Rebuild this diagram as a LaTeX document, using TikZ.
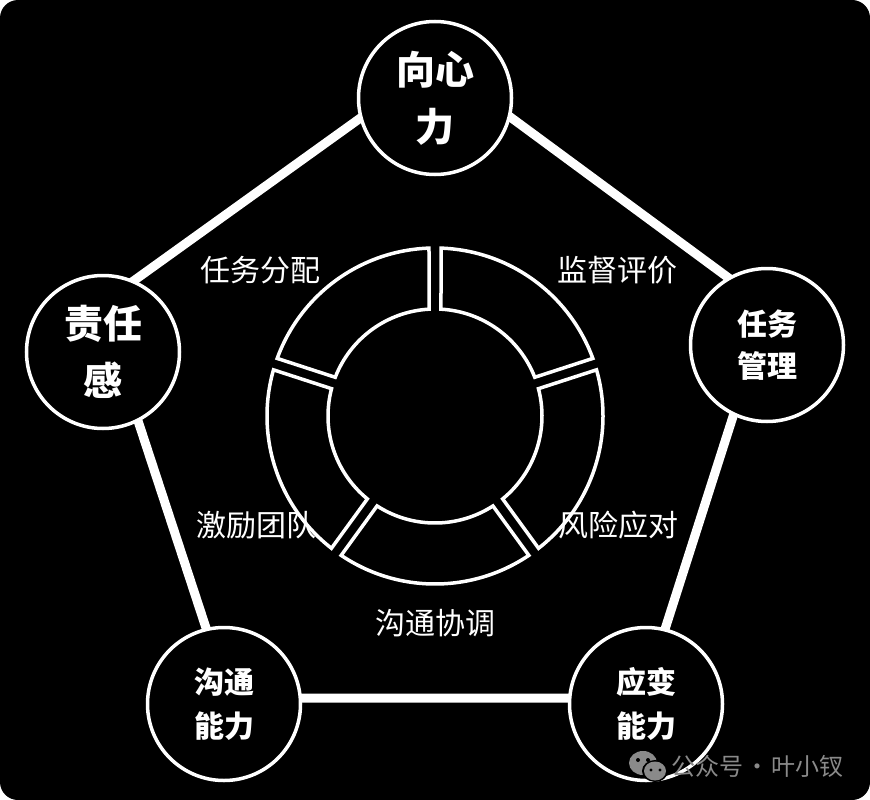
\documentclass[tikz,border=0pt]{standalone}
\usepackage{fontspec}
\setmainfont{Noto Sans CJK SC}
\usetikzlibrary{calc}
\definecolor{wmgray}{HTML}{8A8A8A}
\begin{document}
\begin{tikzpicture}[x=1pt,y=-1pt,
  edge/.style={draw=white,line width=9pt,line join=round},
  hub/.style={circle,draw=white,line width=3.5pt,fill=black,minimum size=153pt,inner sep=0pt,text=white,align=center},
  bigtxt/.style={font=\fontsize{39}{57}\selectfont\bfseries},
  smalltxt/.style={font=\fontsize{30}{42}\selectfont\bfseries},
  seg/.style={draw=white,line width=3.5pt,line join=miter},
  lbl/.style={text=white,font=\fontsize{30}{36}\selectfont,inner sep=0pt},
  wm/.style={text=wmgray,font=\fontsize{24}{28}\selectfont,inner sep=0pt,anchor=west}]
\useasboundingbox (0,0) rectangle (870,800);
\fill[white] (0,0) rectangle (870,800);
\fill[black,rounded corners=18pt] (0,0) rectangle (870,800);

% pentagon vertices (hidden under the hubs)
\coordinate (vT) at (437,63);
\coordinate (vR) at (768,307);
\coordinate (vBR) at (643,698);
\coordinate (vBL) at (229,698);
\coordinate (vL) at (100,305);
\draw[edge] (vT) -- (vR) -- (vBR) -- (vBL) -- (vL) -- cycle;

% hubs
\node[hub,bigtxt] (top) at (435,98) {向心\\力};
\node[hub,bigtxt] (left) at (103,352) {责任\\感};
\node[hub,smalltxt] (right) at (767,345) {任务\\管理};
\node[hub,font=\fontsize{30}{44}\selectfont\bfseries] (bl) at (224,704) {沟通\\能力};
\node[hub,font=\fontsize{30}{44}\selectfont\bfseries] (br) at (646,704) {应变\\能力};

% donut
\coordinate (dc) at (435,416);
\foreach \a in {-90,-18,54,126,198} {
  \pgfmathsetmacro\ao{\a+2.05}
  \pgfmathsetmacro\bo{\a+72-2.05}
  \pgfmathsetmacro\ai{\a+3.21}
  \pgfmathsetmacro\bi{\a+72-3.21}
  \draw[seg] ([shift={(dc)}]\ao:168) arc[start angle=\ao, end angle=\bo, radius=168]
     -- ([shift={(dc)}]\bi:107) arc[start angle=\bi, end angle=\ai, radius=107] -- cycle;
}

% labels
\node[lbl] (l1) at (260,270) {任务分配};
\node[lbl] (l2) at (617,270) {监督评价};
\node[lbl] (l3) at (256,525) {激励团队};
\node[lbl] (l4) at (618,525) {风险应对};
\node[lbl] (l5) at (435,623) {沟通协调};

% watermark
\fill[wmgray] (643,763) ellipse (14pt and 12pt);
\fill[black] (655,771) ellipse (13pt and 11pt);
\fill[wmgray] (655,771) ellipse (11pt and 9.5pt);
\fill[black] (638,760) circle (2pt) (648,760) circle (2pt);
\fill[black] (651,770) circle (1.6pt) (660,770) circle (1.6pt);
\node[wm] (wmtext) at (671,766) {公众号\kern2pt·\kern2pt 叶小钗};
\end{tikzpicture}
\end{document}
